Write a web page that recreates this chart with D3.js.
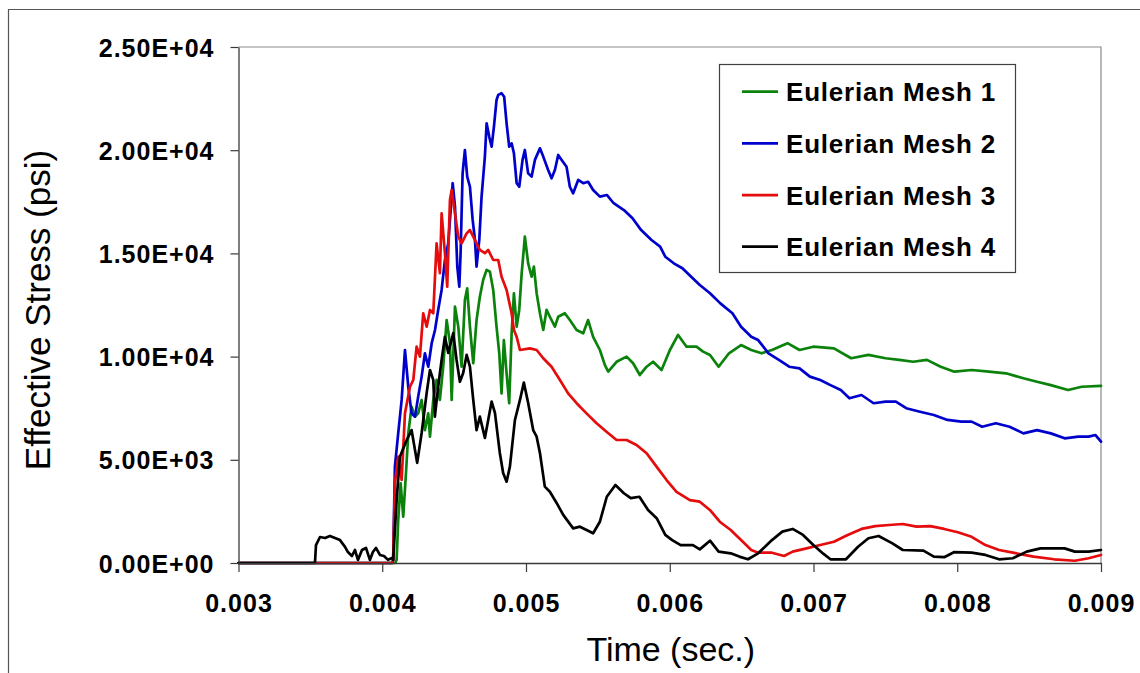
<!DOCTYPE html>
<html>
<head>
<meta charset="utf-8">
<script src="https://cdn.jsdelivr.net/npm/d3@7"></script>
<style>
  html, body { margin: 0; padding: 0; background: #fff; }
  svg { display: block; }
  text { font-family: "Liberation Sans", Arial, Helvetica, sans-serif; fill: #000; }
</style>
</head>
<body>
<svg id="chart" width="1140" height="673"></svg>
<script>
// Series names and colours
const seriesNames = ["Eulerian Mesh 1", "Eulerian Mesh 2", "Eulerian Mesh 3", "Eulerian Mesh 4"];
const seriesColors = ["#0b820b", "#0000cc", "#e40c0c", "#000000"];

// Axis ticks
const timeTicks = [0.003, 0.004, 0.005, 0.006, 0.007, 0.008, 0.009];
const timeTickLabels = ["0.003", "0.004", "0.005", "0.006", "0.007", "0.008", "0.009"];
const stressTicks = [0, 5000, 10000, 15000, 20000, 25000];
const stressTickLabels = ["0.00E+00", "5.00E+03", "1.00E+04", "1.50E+04", "2.00E+04", "2.50E+04"];

// Effective stress (psi) against time (sec.) for each mesh
const mesh1 = [[0.003000,0],[0.004090,0],[0.004100,150],[0.004111,2080],[0.004128,3860],[0.004146,2240],[0.004165,4350],[0.004181,6280],[0.004204,7570],[0.004228,7090],[0.004250,7250],[0.004274,7900],[0.004297,6440],[0.004320,7250],[0.004332,6120],[0.004355,7900],[0.004378,8870],[0.004401,7900],[0.004424,9510],[0.004448,11770],[0.004471,10650],[0.004483,7900],[0.004506,12420],[0.004529,11450],[0.004552,9510],[0.004575,12740],[0.004591,13310],[0.004610,11450],[0.004633,9680],[0.004656,11770],[0.004679,12900],[0.004702,13710],[0.004726,14200],[0.004749,14110],[0.004772,13230],[0.004795,11450],[0.004814,10160],[0.004830,8220],[0.004846,10800],[0.004865,9190],[0.004883,7740],[0.004900,11130],[0.004916,13070],[0.004935,11450],[0.004953,12260],[0.004970,14040],[0.004992,15810],[0.005015,14520],[0.005039,13870],[0.005055,14360],[0.005074,13070],[0.005097,12100],[0.005120,11290],[0.005143,12260],[0.005166,11930],[0.005201,11450],[0.005224,11930],[0.005270,12100],[0.005305,11770],[0.005352,11290],[0.005398,11130],[0.005432,11770],[0.005467,10960],[0.005514,10320],[0.005549,9590],[0.005572,9270],[0.005630,9750],[0.005700,10000],[0.005745,9680],[0.005792,9110],[0.005839,9510],[0.005884,9750],[0.005943,9350],[0.006001,10320],[0.006058,11050],[0.006117,10480],[0.006186,10480],[0.006232,10240],[0.006280,10080],[0.006340,9510],[0.006412,10160],[0.006496,10560],[0.006567,10320],[0.006639,10160],[0.006711,10320],[0.006819,10650],[0.006903,10320],[0.006999,10480],[0.007142,10400],[0.007262,9920],[0.007382,10080],[0.007501,9920],[0.007597,9840],[0.007693,9750],[0.007789,9840],[0.007885,9510],[0.007980,9270],[0.008100,9350],[0.008220,9270],[0.008339,9190],[0.008460,8950],[0.008555,8780],[0.008651,8620],[0.008771,8380],[0.008866,8540],[0.009000,8580]];

const mesh2 = [[0.003000,0],[0.004070,0],[0.004076,150],[0.004088,4670],[0.004111,6280],[0.004135,7900],[0.004158,10320],[0.004181,8540],[0.004204,7250],[0.004228,7090],[0.004250,8060],[0.004274,9030],[0.004297,10160],[0.004320,9510],[0.004344,10650],[0.004367,11290],[0.004389,12260],[0.004413,13230],[0.004436,14680],[0.004459,15490],[0.004490,18400],[0.004506,17260],[0.004522,14360],[0.004536,13390],[0.004545,15010],[0.004559,18880],[0.004575,20010],[0.004591,18720],[0.004610,18230],[0.004629,16620],[0.004645,15650],[0.004656,14360],[0.004675,15650],[0.004691,17750],[0.004714,19690],[0.004726,21300],[0.004744,20660],[0.004761,20170],[0.004777,21140],[0.004795,22430],[0.004807,22680],[0.004830,22760],[0.004848,22590],[0.004865,21300],[0.004883,20170],[0.004900,20330],[0.004916,19850],[0.004935,18400],[0.004953,18230],[0.004976,19530],[0.004992,20010],[0.005015,18880],[0.005039,18720],[0.005062,19530],[0.005097,20090],[0.005120,19690],[0.005154,19040],[0.005178,18640],[0.005201,19040],[0.005224,19770],[0.005248,19530],[0.005282,19200],[0.005305,18230],[0.005328,17910],[0.005363,18560],[0.005398,18400],[0.005432,18470],[0.005467,18070],[0.005514,17750],[0.005562,17830],[0.005610,17430],[0.005681,17100],[0.005741,16700],[0.005801,16130],[0.005873,15650],[0.005933,15330],[0.005969,14840],[0.006028,14520],[0.006088,14280],[0.006149,13870],[0.006209,13470],[0.006280,13070],[0.006352,12580],[0.006436,12100],[0.006496,11450],[0.006567,10960],[0.006615,10800],[0.006687,10160],[0.006759,9840],[0.006831,9510],[0.006903,9430],[0.006975,9030],[0.007047,8870],[0.007118,8620],[0.007190,8380],[0.007250,7980],[0.007334,8140],[0.007418,7740],[0.007501,7820],[0.007573,7820],[0.007645,7500],[0.007741,7330],[0.007837,7170],[0.007932,6930],[0.008028,6850],[0.008100,6850],[0.008173,6600],[0.008268,6770],[0.008364,6600],[0.008460,6280],[0.008555,6440],[0.008651,6280],[0.008747,6040],[0.008843,6120],[0.008914,6120],[0.008962,6200],[0.009000,5880]];

const mesh3 = [[0.003000,0],[0.004070,0],[0.004076,150],[0.004088,3860],[0.004111,5150],[0.004135,4020],[0.004158,7250],[0.004193,8540],[0.004216,8870],[0.004239,10480],[0.004262,10000],[0.004285,12100],[0.004309,11450],[0.004332,12260],[0.004355,12100],[0.004378,15490],[0.004401,14040],[0.004413,16940],[0.004436,15010],[0.004452,13390],[0.004471,17590],[0.004483,18070],[0.004506,16940],[0.004529,15810],[0.004552,15490],[0.004587,15970],[0.004610,16130],[0.004633,15810],[0.004656,15490],[0.004679,15170],[0.004714,15010],[0.004737,15170],[0.004772,14680],[0.004807,14680],[0.004830,13870],[0.004865,13230],[0.004900,12100],[0.004916,11290],[0.004935,10960],[0.004958,10320],[0.005027,10400],[0.005074,10320],[0.005120,9920],[0.005178,9510],[0.005236,8870],[0.005293,8220],[0.005352,7740],[0.005421,7250],[0.005491,6770],[0.005560,6360],[0.005630,5960],[0.005700,5960],[0.005769,5720],[0.005839,5320],[0.005908,4670],[0.005978,4020],[0.006047,3450],[0.006140,3050],[0.006209,2970],[0.006279,2570],[0.006348,2000],[0.006424,1600],[0.006496,1110],[0.006567,630],[0.006615,500],[0.006711,500],[0.006795,340],[0.006855,550],[0.006951,710],[0.007047,870],[0.007142,1030],[0.007238,1360],[0.007334,1650],[0.007430,1790],[0.007526,1840],[0.007621,1890],[0.007717,1760],[0.007813,1790],[0.007909,1650],[0.008004,1490],[0.008100,1270],[0.008196,870],[0.008291,630],[0.008387,500],[0.008531,310],[0.008674,180],[0.008818,110],[0.008914,230],[0.009000,390]];

const mesh4 = [[0.003000,0],[0.003532,0],[0.003539,870],[0.003567,1260],[0.003602,1210],[0.003636,1310],[0.003671,1210],[0.003706,1110],[0.003741,780],[0.003761,530],[0.003789,340],[0.003810,630],[0.003831,150],[0.003859,630],[0.003887,730],[0.003914,150],[0.003935,530],[0.003956,730],[0.003984,390],[0.004012,340],[0.004040,150],[0.004067,240],[0.004076,150],[0.004100,3050],[0.004123,5150],[0.004170,5960],[0.004204,6440],[0.004243,4850],[0.004274,6300],[0.004309,8240],[0.004332,9350],[0.004355,8870],[0.004366,7090],[0.004389,8540],[0.004413,9840],[0.004436,10960],[0.004459,10180],[0.004494,11140],[0.004517,9840],[0.004540,8780],[0.004563,9210],[0.004587,10080],[0.004610,9510],[0.004633,7900],[0.004656,6440],[0.004679,7090],[0.004714,6060],[0.004737,6930],[0.004761,7820],[0.004784,7270],[0.004818,5330],[0.004841,4360],[0.004865,3940],[0.004888,4670],[0.004923,6930],[0.004958,7900],[0.004985,8740],[0.005015,7750],[0.005050,6440],[0.005074,6120],[0.005097,5330],[0.005131,3700],[0.005166,3450],[0.005213,2910],[0.005259,2330],[0.005328,1680],[0.005375,1760],[0.005421,1600],[0.005467,1440],[0.005514,2000],[0.005562,3210],[0.005622,3780],[0.005681,3380],[0.005729,3140],[0.005789,3210],[0.005849,2570],[0.005909,2170],[0.005969,1360],[0.006017,1110],[0.006076,870],[0.006161,870],[0.006209,660],[0.006280,1080],[0.006340,550],[0.006424,470],[0.006484,310],[0.006544,180],[0.006615,470],[0.006711,1110],[0.006783,1520],[0.006855,1650],[0.006927,1360],[0.006999,870],[0.007070,440],[0.007118,180],[0.007226,180],[0.007310,790],[0.007382,1200],[0.007453,1310],[0.007549,950],[0.007621,630],[0.007765,600],[0.007837,310],[0.007909,280],[0.007980,530],[0.008100,500],[0.008196,390],[0.008291,180],[0.008387,230],[0.008483,550],[0.008579,710],[0.008747,710],[0.008818,550],[0.008914,550],[0.009000,630]];

const seriesData = [mesh1, mesh2, mesh3, mesh4];

// Layout
const W = 1140, H = 673;
const plot = { left: 238.5, right: 1101, top: 47, bottom: 563 };

const svg = d3.select("#chart");

// Outer chart frame (only the top and left edges fall inside the page)
svg.append("line").attr("x1", 8.5).attr("x2", 8.5).attr("y1", 9).attr("y2", H)
  .attr("stroke", "#555").attr("stroke-width", 1.2);
svg.append("line").attr("x1", 8).attr("x2", W).attr("y1", 9.5).attr("y2", 9.5)
  .attr("stroke", "#555").attr("stroke-width", 1.2);

const x = d3.scaleLinear().domain([0.003, 0.009]).range([plot.left, plot.right]);
const y = d3.scaleLinear().domain([0, 25000]).range([plot.bottom, plot.top]);

// Plot area top and right border
svg.append("path")
  .attr("d", `M${plot.left},${plot.top}H${plot.right}V${plot.bottom}`)
  .attr("fill", "none").attr("stroke", "#8c8c8c").attr("stroke-width", 1.2);

// Series lines
const line = d3.line().x(d => x(d[0])).y(d => y(d[1]));
svg.append("g").selectAll("path")
  .data(seriesData)
  .join("path")
  .attr("d", line)
  .attr("fill", "none")
  .attr("stroke", (d, i) => seriesColors[i])
  .attr("stroke-width", 2.7)
  .attr("stroke-linejoin", "round")
  .attr("stroke-linecap", "round");

// Y axis
const yAxis = svg.append("g")
  .attr("transform", `translate(${plot.left},0)`)
  .call(d3.axisLeft(y).tickValues(stressTicks)
    .tickFormat((d, i) => stressTickLabels[i])
    .tickSize(8).tickSizeOuter(0).tickPadding(16));
yAxis.select(".domain").attr("stroke", "#3a3a3a").attr("stroke-width", 1.3);
yAxis.selectAll(".tick line").attr("stroke", "#3a3a3a").attr("stroke-width", 1.2);
yAxis.selectAll(".tick text")
  .attr("font-family", null)
  .style("font-size", "25px").style("font-weight", "bold").style("letter-spacing", "1px")
  .attr("dy", "0.36em");

// X axis
const xAxis = svg.append("g")
  .attr("transform", `translate(0,${plot.bottom})`)
  .call(d3.axisBottom(x).tickValues(timeTicks)
    .tickFormat((d, i) => timeTickLabels[i])
    .tickSize(9).tickSizeOuter(0).tickPadding(22));
xAxis.select(".domain").attr("stroke", "#3a3a3a").attr("stroke-width", 1.3);
xAxis.selectAll(".tick line").attr("stroke", "#3a3a3a").attr("stroke-width", 1.2);
xAxis.selectAll(".tick text")
  .attr("font-family", null)
  .style("font-size", "25px").style("font-weight", "bold").style("letter-spacing", "1px");
svg.selectAll(".tick text").attr("fill", "#000");

// Axis titles
svg.append("text")
  .attr("x", (plot.left + plot.right) / 2 + 1).attr("y", 661)
  .attr("text-anchor", "middle")
  .style("font-size", "34px")
  .text("Time (sec.)");

svg.append("text")
  .attr("transform", `translate(50,${(plot.top + plot.bottom) / 2 + 5}) rotate(-90)`)
  .attr("text-anchor", "middle")
  .style("font-size", "35px")
  .text("Effective Stress (psi)");

// Legend
const legend = svg.append("g");
legend.append("rect")
  .attr("x", 719.5).attr("y", 64.5).attr("width", 296).attr("height", 208)
  .attr("fill", "#fff").attr("stroke", "#404040").attr("stroke-width", 1.2);
const rowY = d3.scalePoint().domain(seriesNames).range([91.7, 246.7]);
const rows = legend.selectAll("g.row").data(seriesNames).join("g")
  .attr("class", "row")
  .attr("transform", d => `translate(0,${rowY(d)})`);
rows.append("line")
  .attr("x1", 742).attr("x2", 778).attr("y1", 0).attr("y2", 0)
  .attr("stroke", (d, i) => seriesColors[i]).attr("stroke-width", 2.7);
rows.append("text")
  .attr("x", 786).attr("y", 9.5)
  .style("font-size", "26px").style("font-weight", "bold").style("letter-spacing", "0.8px")
  .text(d => d);
</script>
</body>
</html>
